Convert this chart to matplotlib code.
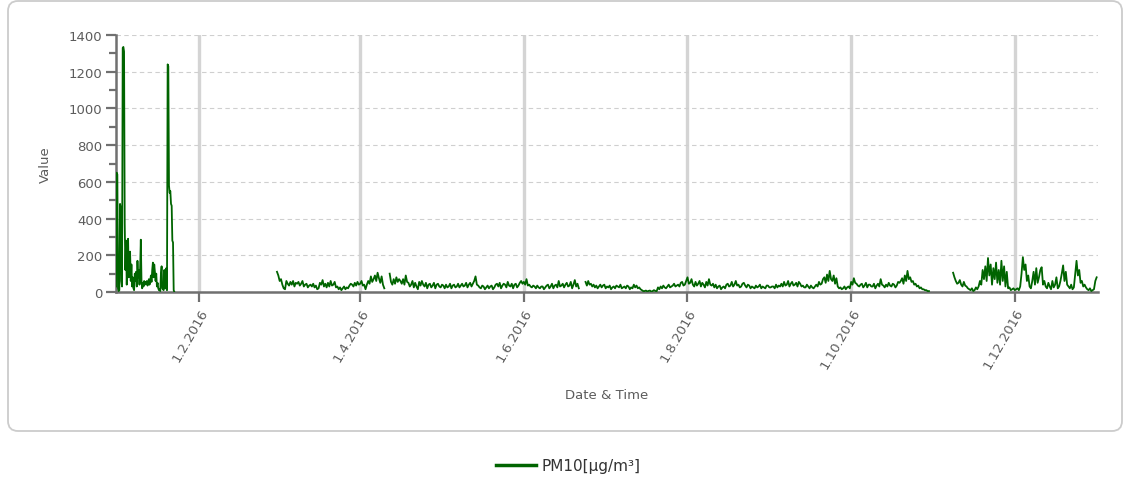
import numpy as np
import matplotlib
matplotlib.use("Agg")
import matplotlib.pyplot as plt
from matplotlib.patches import FancyBboxPatch
from matplotlib.lines import Line2D
from matplotlib.ticker import MultipleLocator
import datetime as dt

series_name = "PM10[µg/m³]"
x_label = "Date & Time"
y_label = "Value"

# ---- data segments (start time, sampling step in hours, values) ----
seg1_start = "2016-01-01T00:00"
seg1_step_h = 6
seg1_values = [
    30, 650, 640, 20,
    5, 10, 480, 460,
    60, 30, 1330, 1335,
    1310, 370, 120, 280,
    40, 200, 290, 80,
    210, 220, 60, 150,
    30, 80, 20, 10,
    100, 60, 110, 30,
    170, 80, 120, 40,
    130, 285, 60, 20,
    50, 30, 60, 40,
    55, 45, 60, 35,
    50, 70, 40, 60,
    90, 55, 120, 160,
    80, 150, 110, 60,
    100, 30, 50, 20,
    10, 15, 5, 100,
    140, 20, 15, 10,
    120, 20, 20, 130,
    10, 1240, 1230, 580,
    540, 550, 480, 470,
    280, 270, 10, 0,
]

seg2_start = "2016-03-01T00:00"
seg2_step_h = 12
seg2_values = [
    110, 90, 60, 70, 40, 20, 15, 60, 45, 35, 55, 40, 60, 30, 50, 45,
    55, 35, 45, 60, 30, 40, 45, 25, 35, 40, 30, 45, 25, 35, 15, 20,
    50, 40, 65, 30, 45, 25, 50, 30, 60, 35, 40, 55, 25, 30, 15, 25,
    10, 20, 30, 15, 25, 20, 35, 45, 40, 30, 50, 35, 55, 40, 45, 60,
    35, 40, 15, 40, 60, 45, 85, 55, 70, 90, 60, 105, 75, 50, 85, 40,
    20,
]

seg3_start = "2016-04-12T00:00"
seg3_step_h = 12
seg3_values = [
    100, 55, 40, 70, 45, 80, 55, 70, 60, 45, 70, 40, 90, 55, 50, 30,
    40, 60, 25, 50, 30, 15, 55, 35, 60, 40, 30, 50, 20, 40, 45, 25,
    35, 50, 20, 40, 45, 30, 25, 40, 35, 20, 40, 25, 30, 45, 20, 35,
    40, 25, 30, 45, 25, 35, 45, 30, 35, 50, 25, 40, 50, 30, 45, 60,
    85, 40, 35, 25, 20, 35, 30, 15, 25, 35, 20, 30, 35, 15, 25, 40,
    45, 30, 50, 20, 35, 45, 40, 25, 55, 35, 30, 45, 20, 40, 45, 25,
    35, 50, 60, 45, 55, 40, 70, 35, 40, 30, 25, 35, 30, 20, 35, 25,
    20, 30, 30, 15, 25, 35, 40, 20, 30, 45, 20, 35, 40, 25, 60, 30,
    35, 45, 25, 40, 50, 30, 35, 55, 20, 40, 65, 30, 45, 20,
]

seg4_start = "2016-06-24T00:00"
seg4_step_h = 12
seg4_values = [
    55, 35, 60, 40, 45, 30, 40, 25, 35, 20, 30, 40, 25, 35, 40, 20,
    30, 25, 35, 15, 25, 30, 20, 35, 30, 25, 40, 20, 25, 30, 20, 35,
    30, 15, 25, 20, 40, 25, 35, 20, 25, 15, 10, 5, 5, 8, 3, 6,
    8, 2, 5, 10, 6, 4, 25, 15, 30, 20, 35, 25, 20, 30, 40, 25,
    30, 35, 45, 30, 35, 40, 30, 50, 55, 35, 40, 60, 80, 45, 50, 70,
    40, 30, 55, 35, 45, 60, 30, 50, 40, 25, 55, 35, 70, 40, 35, 45,
    25, 40, 20, 30, 35, 15, 25, 30, 20, 40, 45, 30, 35, 55, 30, 40,
    60, 35, 40, 25, 30, 45, 50, 35, 25, 40, 35, 20, 30, 25, 20, 35,
    25, 30, 40, 20, 30, 25, 20, 35, 35, 25, 25, 30, 30, 20, 40, 25,
    35, 30, 45, 30, 55, 35, 40, 60, 30, 45, 55, 35, 40, 50, 30, 55,
    45, 30, 35, 25, 25, 40, 30, 20, 35, 25, 20, 30, 40, 30, 55, 40,
    45, 70, 80, 50, 95, 60, 115, 70, 60, 90, 45, 75, 30, 20, 25, 15,
    20, 30, 15, 25, 30, 20, 55, 40, 75, 50, 45, 35, 30, 40, 45, 25,
    35, 50, 25, 40, 40, 30, 30, 45, 20, 35, 45, 30, 70, 40, 35, 25,
    40, 30, 50, 35, 30, 45, 40, 25, 35, 55, 50, 60, 75, 45, 90, 60,
    115, 70, 80, 55, 60, 40, 45, 30, 35, 20, 25, 15, 15, 10, 10, 5,
    5,
]

seg5_start = "2016-11-08T00:00"
seg5_step_h = 12
seg5_values = [
    105, 80, 60, 45, 50, 65, 40, 30, 55, 35, 30, 20, 15, 10, 20, 5,
    10, 25, 15, 30, 60, 40, 120, 70, 140, 60, 185, 90, 150, 40, 130, 70,
    160, 50, 120, 40, 170, 60, 140, 30, 110, 20, 25, 10, 15, 20, 10, 15,
    20, 10, 30, 100, 190, 120, 150, 60, 90, 30, 20, 60, 110, 40, 130, 50,
    80, 120, 135, 40, 60, 30, 20, 50, 30, 15, 60, 25, 40, 80, 20, 30,
    60, 100, 145, 60, 110, 40, 30, 20, 40, 15, 25, 100, 170, 90, 120, 50,
    60, 30, 40, 25, 15, 10, 20, 5, 10, 15, 60, 80,
]

segments = [
    (seg1_start, seg1_step_h, seg1_values),
    (seg2_start, seg2_step_h, seg2_values),
    (seg3_start, seg3_step_h, seg3_values),
    (seg4_start, seg4_step_h, seg4_values),
    (seg5_start, seg5_step_h, seg5_values),
]

x_start = dt.datetime(2016, 1, 1)
x_end = dt.datetime(2017, 1, 1)
tick_dates = [dt.datetime(2016, m, 1) for m in (2, 4, 6, 8, 10, 12)]
tick_labels = ["1.2.2016", "1.4.2016", "1.6.2016", "1.8.2016", "1.10.2016", "1.12.2016"]
y_ticks = [0, 200, 400, 600, 800, 1000, 1200, 1400]

# build series with NaN gaps between segments
xs, ys = [], []
for start, step, vals in segments:
    t = np.datetime64(start) + np.arange(len(vals)) * np.timedelta64(step, "h")
    xs.append(t.astype("datetime64[s]").astype(object))
    ys.append(np.array(vals, dtype=float))
    xs.append(np.array([(t[-1] + np.timedelta64(1, "h")).astype("datetime64[s]").astype(object)]))
    ys.append(np.array([np.nan]))
x = np.concatenate(xs)
y = np.concatenate(ys)

plt.rcParams["font.family"] = ["DejaVu Sans"]
W, H = 1129, 485
fig = plt.figure(figsize=(W / 100, H / 100), dpi=100)
fig.patch.set_facecolor("white")

# outer rounded frame
frame = FancyBboxPatch((8 / 100, (H - 432) / 100), (1122 - 8) / 100, (432 - 2) / 100,
                       boxstyle="round,pad=0,rounding_size=0.1",
                       transform=fig.dpi_scale_trans, fc="none", ec="#cccccc", lw=1.3)
fig.patches.append(frame)

ax = fig.add_axes([116 / W, 1 - 293 / H, (1098 - 116) / W, (293 - 36) / H])
line, = ax.plot(x, y, color="#006400", lw=1.3, zorder=3)

ax.set_xlim(x_start, x_end)
ax.set_ylim(0, 1400)
ax.set_xticks(tick_dates)
ax.set_xticklabels(tick_labels, rotation=60, ha="right", va="top", rotation_mode="anchor")
ax.set_yticks(y_ticks)
ax.yaxis.set_minor_locator(MultipleLocator(100))

txt_color = "#5c5c5c"
ax.tick_params(axis="both", which="both", colors="#707070", labelcolor=txt_color, labelsize=9.5)
ax.tick_params(axis="y", which="major", length=7, width=1.6, pad=3)
ax.tick_params(axis="y", which="minor", length=5, width=1.6)
ax.tick_params(axis="x", which="major", length=7, width=1.6, pad=3)

ax.set_axisbelow(True)
ax.xaxis.grid(True, color="#d4d4d4", lw=2.4, ls="-")
ax.yaxis.grid(True, color="#cfcfcf", lw=0.8, ls=(0, (4, 3)))

for s in ("top", "right"):
    ax.spines[s].set_visible(False)
for s in ("left", "bottom"):
    ax.spines[s].set_color("#707070")
    ax.spines[s].set_linewidth(1.8)

ax.set_ylabel(y_label, color=txt_color, fontsize=9.5)
ax.yaxis.set_label_coords((52 - 116) / 982, 0.5)
ax.set_xlabel(x_label, color=txt_color, fontsize=9.5, va="center")
ax.xaxis.set_label_coords(0.5, (293 - 396) / 257)

proxy = Line2D([], [], color="#006400", lw=2.5)
fig.legend([proxy], [series_name], loc="center", bbox_to_anchor=(568 / W, 1 - 467 / H),
           frameon=False, fontsize=11, handlelength=2.6, handletextpad=0.35,
           labelcolor="#333333")

fig.savefig("out.png", dpi=100, facecolor="white")
